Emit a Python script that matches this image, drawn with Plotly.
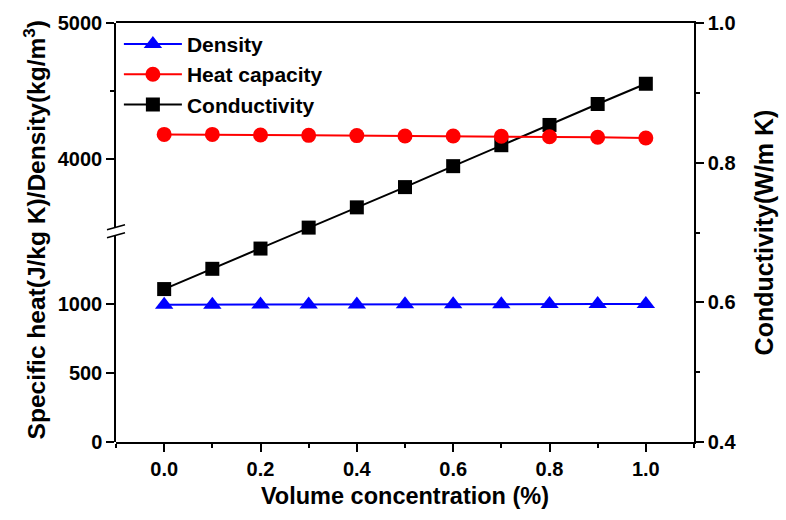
import plotly.graph_objects as go

conc = [0.0, 0.1, 0.2, 0.3, 0.4, 0.5, 0.6, 0.7, 0.8, 0.9, 1.0]
density = [996, 996, 997, 998, 998, 999, 1000, 1000, 1001, 1001, 1002]
heat_capacity = [4182, 4182, 4178, 4175, 4173, 4170, 4170, 4168, 4165, 4161, 4156]
conductivity = [0.619, 0.648, 0.677, 0.707, 0.736, 0.765, 0.795, 0.825, 0.854, 0.884, 0.913]

FONT = "Liberation Sans, Arial, sans-serif"
TICKF = dict(family=FONT, size=20, color="black")

# break geometry (domains of the two left-axis segments)
D1 = 0.4934
D2 = 0.5125

fig = go.Figure()
fig.add_trace(go.Scatter(x=conc, y=density, name="<b>Density</b>", mode="lines+markers",
                         line=dict(color="#0000ff", width=2),
                         marker=dict(symbol="triangle-up", size=16, color="#0000ff"),
                         xaxis="x", yaxis="y"))
fig.add_trace(go.Scatter(x=conc, y=heat_capacity, name="<b>Heat capacity</b>", mode="lines+markers",
                         line=dict(color="#ff0000", width=2),
                         marker=dict(symbol="circle", size=15, color="#ff0000"),
                         xaxis="x", yaxis="y3"))
fig.add_trace(go.Scatter(x=conc, y=conductivity, name="<b>Conductivity</b>", mode="lines+markers",
                         line=dict(color="black", width=2),
                         marker=dict(symbol="square", size=14, color="black"),
                         xaxis="x", yaxis="y2"))

common = dict(showline=True, linecolor="black", linewidth=1.5, ticks="outside",
              ticklen=8, tickwidth=1.5, tickcolor="black", showgrid=False, zeroline=False,
              tickfont=TICKF)

fig.update_layout(
    width=786, height=520,
    margin=dict(l=116, r=91, t=20, b=78),
    paper_bgcolor="white", plot_bgcolor="rgba(0,0,0,0)",
    showlegend=True,
    legend=dict(x=0.005, y=0.998, xanchor="left", yanchor="top",
                font=dict(family=FONT, size=21, color="black"),
                bgcolor="rgba(0,0,0,0)", tracegroupgap=0, itemwidth=58),
    xaxis=dict(range=[-0.1, 1.1], tickvals=[0, 0.2, 0.4, 0.6, 0.8, 1.0],
               ticktext=["<b>0.0</b>", "<b>0.2</b>", "<b>0.4</b>", "<b>0.6</b>", "<b>0.8</b>", "<b>1.0</b>"],
               minor=dict(tickvals=[-0.1, 0.1, 0.3, 0.5, 0.7, 0.9, 1.1], ticklen=4, tickwidth=1.5,
                          tickcolor="black", ticks="outside"),
               anchor="y2", mirror=True,
               title=dict(text="<b>Volume concentration (%)</b>",
                          font=dict(family=FONT, size=23.5, color="black"), standoff=9),
               **common),
    yaxis=dict(domain=[0, D1], range=[0, 1500], tickvals=[0, 500, 1000],
               ticktext=["<b>0</b>", "<b>500</b>", "<b>1000</b>"],
               anchor="x", side="left", **common),
    yaxis3=dict(domain=[D2, 1], range=[3500, 5000], tickvals=[4000, 5000],
                ticktext=["<b>4000</b>", "<b>5000</b>"],
                minor=dict(tickvals=[4500], ticklen=4, tickwidth=1.5, tickcolor="black", ticks="outside"),
                anchor="x", side="left", **common),
    yaxis2=dict(domain=[0, 1], range=[0.4, 1.0], tickvals=[0.4, 0.6, 0.8, 1.0],
                ticktext=["<b>0.4</b>", "<b>0.6</b>", "<b>0.8</b>", "<b>1.0</b>"],
                minor=dict(tickvals=[0.5, 0.7, 0.9], ticklen=4, tickwidth=1.5, tickcolor="black", ticks="outside"),
                anchor="x", side="right",
                title=dict(text="<b>Conductivity(W/m K)</b>",
                           font=dict(family=FONT, size=25, color="black"), standoff=20),
                **common),
)

# left title spanning both segments
fig.add_annotation(text="<b>Specific heat(J/kg K)/Density(kg/m<sup>3</sup>)</b>",
                   xref="paper", yref="paper", x=0, y=0.505, xanchor="center", yanchor="middle",
                   xshift=-82, textangle=-90, showarrow=False,
                   font=dict(family=FONT, size=24.5, color="black"))

# axis break marks
ymid = (D1 + D2) / 2
for y0, y1 in [(1.5, 6.5), (-6.5, -1.5)]:
    fig.add_shape(type="line", xref="paper", yref="paper",
                  xsizemode="pixel", xanchor=0, x0=-9, x1=9,
                  ysizemode="pixel", yanchor=ymid, y0=y0, y1=y1,
                  line=dict(color="black", width=1.5))

fig.write_html("out.html")
